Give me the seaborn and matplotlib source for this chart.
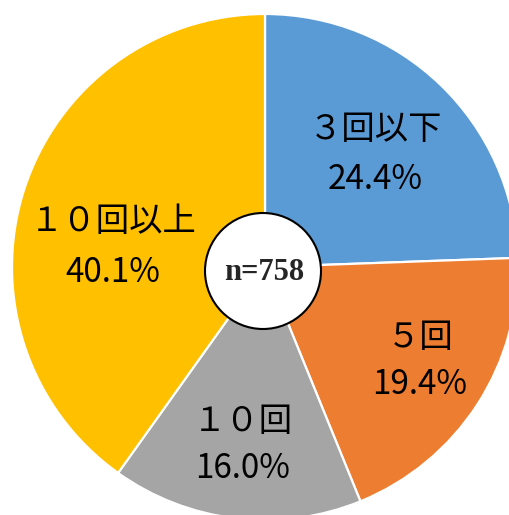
import matplotlib
matplotlib.use('Agg')
import matplotlib.pyplot as plt
import seaborn as sns

# 回数の分布 (n=758)
categories = ['３回以下', '５回', '１０回', '１０回以上']
shares = [24.4, 19.4, 16.0, 40.1]
colors = ['#5B9BD5', '#ED7D31', '#A5A5A5', '#FFC000']
sample_label = 'n=758'

sns.set_theme(style='white')
plt.rcParams['font.family'] = ['Noto Sans CJK JP', 'DejaVu Sans']

fig = plt.figure(figsize=(5.10, 5.15), dpi=100)
ax = fig.add_axes([0, 0, 1, 1])

wedges, _ = ax.pie(shares, colors=colors, startangle=90, counterclock=False,
                   radius=1.0, center=(0, 0),
                   wedgeprops=dict(edgecolor='white', linewidth=1.6))

# ラベル位置 (ピクセル -> データ座標)
px = 253.0
cx, cy = 265.0, 267.0
label_pos = [(375, 130, 180), (420, 337, 385), (243, 422, 468), (113, 222, 272)]
for cat, val, (x, y1, y2) in zip(categories, shares, label_pos):
    ax.text((x - cx) / px, (cy - y1) / px, cat, ha='center', va='center',
            fontsize=24, color='black')
    ax.text((x - cx) / px, (cy - y2) / px, f'{val:.1f}%', ha='center', va='center',
            fontsize=24, color='black')

# 中央の円
circ = plt.Circle(((263 - cx) / px, (cy - 271) / px), 58 / px,
                  facecolor='white', edgecolor='black', linewidth=1.5, zorder=5)
ax.add_patch(circ)
ax.text((264 - cx) / px, (cy - 272) / px, sample_label, ha='center', va='center',
        fontsize=22, family='Liberation Serif', fontweight='bold', zorder=6)

ax.set_xlim(-cx / px, (510 - cx) / px)
ax.set_ylim(-(515 - cy) / px, cy / px)
ax.set_aspect('auto')
ax.axis('off')

fig.savefig('out.png', dpi=100)
